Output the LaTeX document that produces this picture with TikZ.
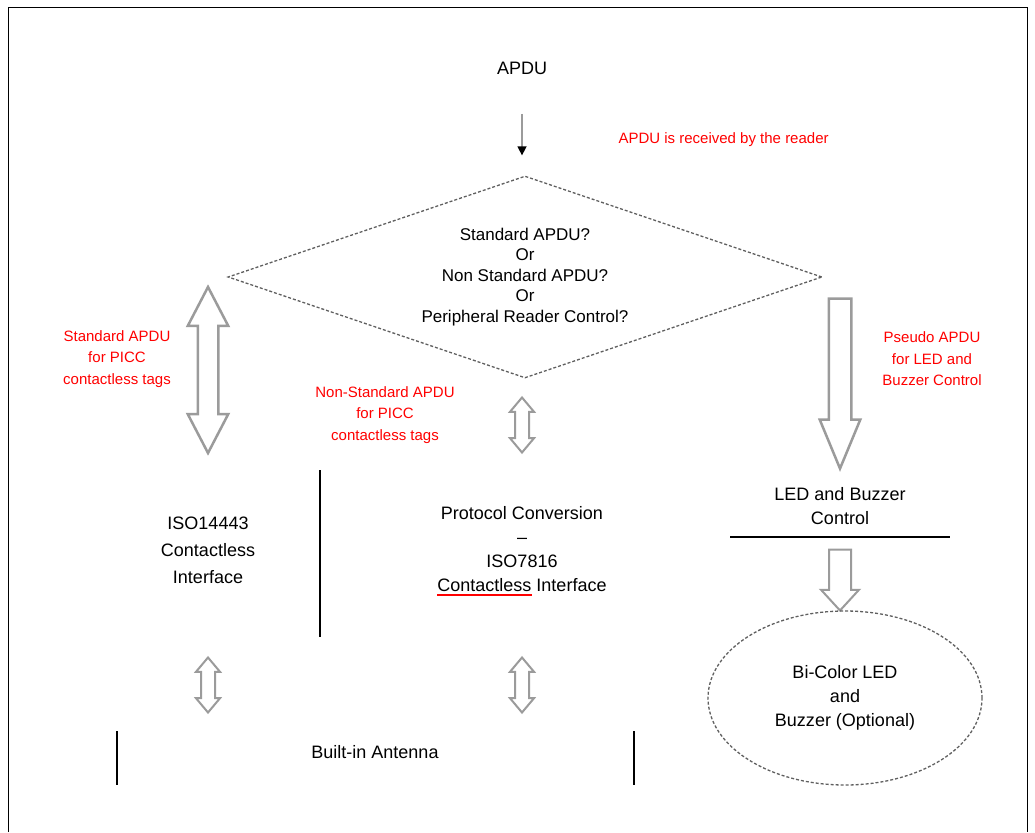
\documentclass[tikz,border=0pt]{standalone}
\usepackage{fontspec}
\setmainfont{Liberation Sans}
\usetikzlibrary{positioning,shapes.geometric,shapes.arrows,arrows.meta}

\definecolor{arrgray}{RGB}{155,155,155}
\definecolor{dashgray}{RGB}{95,95,95}

\newcommand\redline[1]{\setbox0\hbox{#1}\rlap{\color{red}\rule[-4pt]{\wd0}{1.6pt}}\box0\relax}

\tikzset{
  txt/.style={align=center,font=\fontsize{18}{24}\selectfont},
  note/.style={align=center,text=red,font=\fontsize{15}{21.5}\selectfont},
  blockarr/.style={draw=arrgray,fill=white,inner xsep=0pt,outer sep=0pt},
  bigdarrow/.style={blockarr,double arrow,rotate=90,line width=2.5pt,inner ysep=9pt,
    double arrow head extend=10pt,double arrow tip angle=55,minimum height=166pt},
  smalldarrow/.style={blockarr,double arrow,rotate=90,line width=2pt,inner ysep=6pt,
    double arrow head extend=5pt,double arrow tip angle=80,minimum height=55pt},
  bigsarrow/.style={blockarr,single arrow,rotate=-90,line width=2.5pt,inner ysep=10pt,
    single arrow head extend=9pt,single arrow tip angle=45,minimum height=170pt},
  smallsarrow/.style={blockarr,single arrow,rotate=-90,line width=2pt,inner ysep=10pt,
    single arrow head extend=8pt,single arrow tip angle=85,minimum height=61pt},
  sepline/.style={line width=1.5pt},
}

\begin{document}
\begin{tikzpicture}[x=1pt,y=-1pt]
  \useasboundingbox (0,0) rectangle (1035,832);
  \draw[line width=1pt] (8,832) -- (8,8) -- (1027,8) -- (1027,832);

  % question at the top
  \node[txt] (apdu) at (522,68) {APDU};
  \node[diamond,draw=dashgray,densely dashed,line width=1.3pt,aspect=2.94,
        minimum width=594pt,minimum height=202pt,inner sep=0pt,
        align=center,font=\fontsize{17}{20.5}\selectfont] (check) at (525,277)
    {Standard APDU?\\Or\\Non Standard APDU?\\Or\\Peripheral Reader Control?};
  \draw[arrgray,line width=1.5pt,-{Triangle[black,length=9pt,width=9pt]},
        shorten <=36pt,shorten >=20pt] (apdu) -- (apdu |- check.north);
  \node[note,anchor=west] (rcv) at (615,140) {APDU is received by the reader};

  % block arrows
  \node[bigdarrow] (stdarr) at (208,370) {};
  \node[smalldarrow] (nstdarr) at (522,425) {};
  \node[bigsarrow] (pseudoarr) at (840,370) {};
  \node[smallsarrow] (ledarr) at (840,574) {};
  \node[smalldarrow] (antarr1) at (208,685) {};
  \node[smalldarrow] (antarr2) at (522,685) {};

  % red notes
  \node[note] (stdnote) at (117,359) {Standard APDU\\for PICC\\contactless tags};
  \node[note] (nstdnote) at (385,415) {Non-Standard APDU\\for PICC\\contactless tags};
  \node[note] (pseudonote) at (932,359) {Pseudo APDU\\for LED and\\Buzzer Control};

  % interfaces
  \node[txt,font=\fontsize{18}{27}\selectfont] (isoif) at (208,550)
    {ISO14443\\Contactless\\Interface};
  \node[txt] (protconv) at (522,551)
    {Protocol Conversion\\--\\ISO7816\\\redline{Contactless} Interface};
  \node[txt] (ledctl) at (840,506) {LED and Buzzer\\Control};
  \node[ellipse,draw=dashgray,densely dashed,line width=1.3pt,minimum width=274pt,
        minimum height=174pt,txt] (ledbuz) at (845,698)
    {Bi-Color LED\\and\\Buzzer (Optional)};
  \node[txt] (antenna) at (375,752) {Built-in Antenna};

  % separators
  \draw[sepline] (320,470) -- (320,637);
  \draw[sepline] (730,537) -- (950,537);
  \draw[sepline] (117,731) -- (117,785);
  \draw[sepline] (634,731) -- (634,785);
\end{tikzpicture}
\end{document}
